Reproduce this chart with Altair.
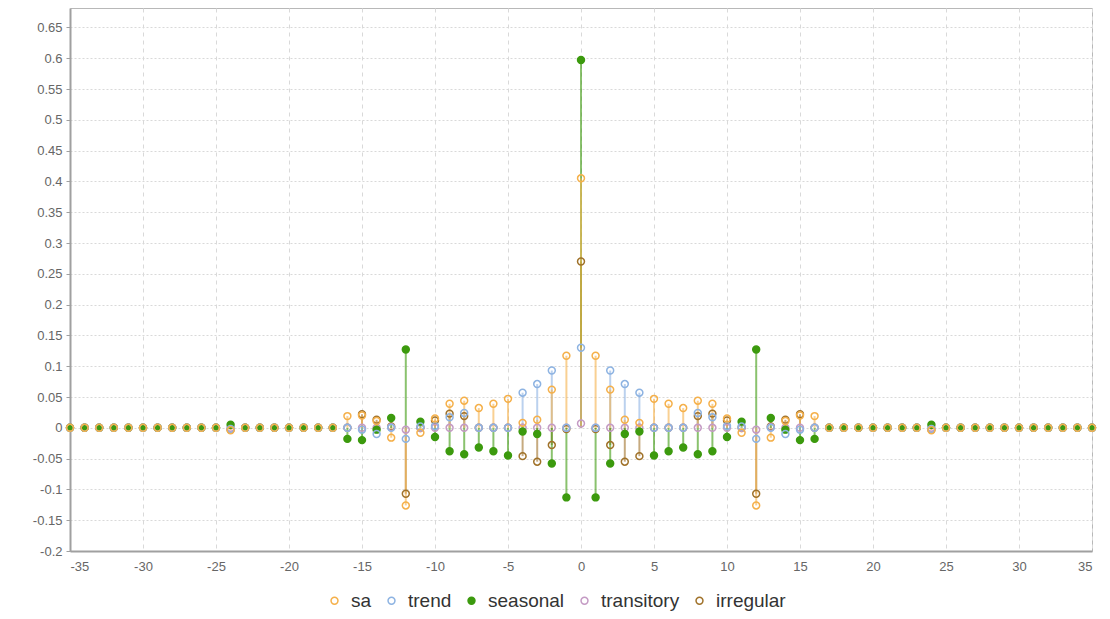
import altair as alt
import pandas as pd

lags = list(range(-35, 36))
series_names = ["sa", "trend", "seasonal", "transitory", "irregular"]
series_colors = ["#f5b04a", "#8db3e2", "#3c9a0e", "#c49ac4", "#a0722a"]
series_fill = ["transparent", "transparent", "#3c9a0e", "transparent", "transparent"]
series_size = [48, 48, 36, 48, 48]

# values per lag, from -35 to 35
sa = [0, 0, 0, 0, 0, 0, 0, 0, 0, 0, 0,
      -0.004,
      0, 0, 0, 0, 0, 0, 0,
      0.019, 0.020, 0.011, -0.016, -0.126, -0.008, 0.015, 0.039, 0.044, 0.032, 0.039,
      0.047, 0.008, 0.013, 0.062, 0.117, 0.405, 0.117, 0.062, 0.013, 0.008, 0.047,
      0.039, 0.032, 0.044, 0.039, 0.015, -0.008, -0.126, -0.016, 0.011, 0.020, 0.019,
      0, 0, 0, 0, 0, 0, 0,
      -0.004,
      0, 0, 0, 0, 0, 0, 0, 0, 0, 0, 0]
trend = [0, 0, 0, 0, 0, 0, 0, 0, 0, 0, 0,
         -0.002,
         0, 0, 0, 0, 0, 0, 0,
         0, -0.003, -0.010, 0, -0.018, 0.002, 0.003, 0.017, 0.024, 0, 0,
         0, 0.057, 0.071, 0.093, 0, 0.130, 0, 0.093, 0.071, 0.057, 0,
         0, 0, 0.024, 0.017, 0.003, 0.002, -0.018, 0, -0.010, -0.003, 0,
         0, 0, 0, 0, 0, 0, 0,
         -0.002,
         0, 0, 0, 0, 0, 0, 0, 0, 0, 0, 0]
seasonal = [0, 0, 0, 0, 0, 0, 0, 0, 0, 0, 0,
            0.005,
            0, 0, 0, 0, 0, 0, 0,
            -0.018, -0.020, -0.003, 0.016, 0.127, 0.010, -0.015, -0.038, -0.043, -0.032, -0.038,
            -0.045, -0.006, -0.010, -0.058, -0.113, 0.597, -0.113, -0.058, -0.010, -0.006, -0.045,
            -0.038, -0.032, -0.043, -0.038, -0.015, 0.010, 0.127, 0.016, -0.003, -0.020, -0.018,
            0, 0, 0, 0, 0, 0, 0,
            0.005,
            0, 0, 0, 0, 0, 0, 0, 0, 0, 0, 0]
transitory = [0, 0, 0, 0, 0, 0, 0, 0, 0, 0, 0,
              0,
              0, 0, 0, 0, 0, 0, 0,
              0, 0, 0, 0.001, -0.003, 0, 0, 0, 0, 0, 0,
              0, 0, 0, 0, 0, 0.007, 0, 0, 0, 0, 0,
              0, 0, 0, 0, 0, 0, -0.003, 0.001, 0, 0, 0,
              0, 0, 0, 0, 0, 0, 0,
              0,
              0, 0, 0, 0, 0, 0, 0, 0, 0, 0, 0]
irregular = [0, 0, 0, 0, 0, 0, 0, 0, 0, 0, 0,
             -0.003,
             0, 0, 0, 0, 0, 0, 0,
             0, 0.022, 0.013, 0.002, -0.107, 0, 0.012, 0.023, 0.019, 0, 0,
             0, -0.046, -0.055, -0.028, -0.002, 0.270, -0.002, -0.028, -0.055, -0.046, 0,
             0, 0, 0.019, 0.023, 0.012, 0, -0.107, 0.002, 0.013, 0.022, 0,
             0, 0, 0, 0, 0, 0, 0,
             -0.003,
             0, 0, 0, 0, 0, 0, 0, 0, 0, 0, 0]

x_ticks = [-35, -30, -25, -20, -15, -10, -5, 0, 5, 10, 15, 20, 25, 30, 35]
y_ticks = [-0.2, -0.15, -0.1, -0.05, 0, 0.05, 0.1, 0.15, 0.2, 0.25, 0.3, 0.35,
           0.4, 0.45, 0.5, 0.55, 0.6, 0.65]

rows = []
for rank, (name, vals) in enumerate(zip(series_names, [sa, trend, seasonal, transitory, irregular])):
    for lag, v in zip(lags, vals):
        rows.append({"lag": lag, "value": v, "series": name, "draw": -rank})
df = pd.DataFrame(rows)

FONT = "Liberation Sans"

x_enc = alt.X(
    "lag:Q",
    scale=alt.Scale(domain=[-35, 35], nice=False, zero=False),
    axis=alt.Axis(values=x_ticks, title=None, grid=True, gridDash=[4, 4],
                  gridColor="#d9d9d9", labelExpr="'' + datum.value", ticks=False,
                  labelPadding=9),
)
y_enc = alt.Y(
    "value:Q",
    scale=alt.Scale(domain=[-0.2, 0.6815], nice=False, zero=False),
    axis=alt.Axis(values=y_ticks, title=None, grid=True, gridDash=[2, 2],
                  gridColor="#d9d9d9", labelExpr="'' + datum.value", tickSize=4,
                  labelPadding=4),
)

legend_cfg = dict(
    orient="none", legendX=255, legendY=583, direction="horizontal", title=None,
    labelFontSize=19, labelFont=FONT, labelColor="#333333", columnPadding=10,
    labelOffset=7, symbolStrokeWidth=1.5,
)

# stems, one layer per series (drawn from last series to first)
stem_layers = []
for name, col in reversed(list(zip(series_names, series_colors))):
    stem_layers.append(
        alt.Chart(df).transform_filter(alt.datum.series == name)
        .mark_rule(strokeWidth=2, opacity=0.6, color=col)
        .encode(x=x_enc, y=y_enc, y2=alt.datum(0))
    )

points = alt.Chart(df).mark_point(filled=True, strokeWidth=1.5, opacity=1).encode(
    x=x_enc,
    y=y_enc,
    stroke=alt.Stroke("series:N", scale=alt.Scale(domain=series_names, range=series_colors),
                      legend=alt.Legend(**legend_cfg)),
    fill=alt.Fill("series:N", scale=alt.Scale(domain=series_names, range=series_fill),
                  legend=alt.Legend(**legend_cfg)),
    size=alt.Size("series:N", scale=alt.Scale(domain=series_names, range=series_size),
                  legend=alt.Legend(**legend_cfg)),
    order=alt.Order("draw:Q"),
)

chart = alt.layer(*stem_layers, points).properties(
    width=1022, height=543,
    autosize="none",
    padding={"left": 62, "top": 0, "right": 10, "bottom": 60},
).configure_axis(
    domainColor="#a0a0a0", domainWidth=2, tickColor="#a0a0a0",
    labelColor="#666666", labelFontSize=13, labelFont=FONT,
).configure_view(stroke="#b8b8b8", strokeWidth=1)

chart.save("out.html", embed_options={"renderer": "svg", "actions": False})
